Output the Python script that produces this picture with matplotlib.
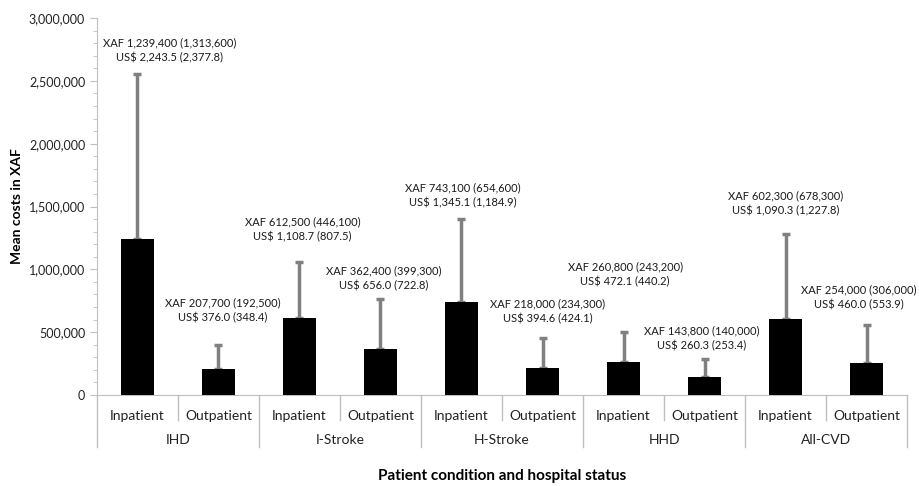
import matplotlib.pyplot as plt
from matplotlib.ticker import FuncFormatter, MultipleLocator
import matplotlib.transforms as mtransforms

# Data
conditions = ["IHD", "I-Stroke", "H-Stroke", "HHD", "All-CVD"]
statuses = ["Inpatient", "Outpatient"]
mean_xaf = [1239400, 207700, 612500, 362400, 743100, 218000, 260800, 143800, 602300, 254000]
sd_xaf = [1313600, 192500, 446100, 399300, 654600, 234300, 243200, 140000, 678300, 306000]
mean_usd = [2243.5, 376.0, 1108.7, 656.0, 1345.1, 394.6, 472.1, 260.3, 1090.3, 460.0]
sd_usd = [2377.8, 348.4, 807.5, 722.8, 1184.9, 424.1, 440.2, 253.4, 1227.8, 553.9]

# label placement (x offset in bar slots, y centre in data units)
label_dx = [0.40, 0.05, 0.04, 0.04, 0.02, 0.06, 0.02, -0.03, 0.0, -0.1]
label_y = [2745000, 676000, 1320000, 930000, 1590000, 663000, 963000, 450000, 1527000, 776000]

plt.rcParams['font.family'] = ['Lato', 'DejaVu Sans']

def main():
    fig = plt.figure(figsize=(9.2, 4.86), dpi=100)
    ax = fig.add_axes([0.1054, 0.1872, 0.8805, 0.7758])

    x = list(range(len(mean_xaf)))
    ax.bar(x, mean_xaf, width=0.4, color="black", zorder=3)
    ax.errorbar(x, mean_xaf, yerr=[[0] * len(sd_xaf), sd_xaf], fmt="none",
                ecolor="#808080", elinewidth=2.5, capsize=3, capthick=2.5, zorder=2)

    for i in x:
        txt = "XAF {:,} ({:,})\nUS$ {:,.1f} ({:,.1f})".format(
            mean_xaf[i], sd_xaf[i], mean_usd[i], sd_usd[i])
        ax.text(i + label_dx[i], label_y[i], txt, ha="center", va="center",
                fontsize=8, color="#1a1a1a", linespacing=1.4)

    ax.set_xlim(-0.5, len(x) - 0.5)
    ax.set_ylim(0, 3000000)
    ax.yaxis.set_major_locator(MultipleLocator(500000))
    ax.yaxis.set_minor_locator(MultipleLocator(100000))
    ax.yaxis.set_major_formatter(FuncFormatter(lambda v, p: "{:,.0f}".format(v)))
    ax.tick_params(axis="y", which="major", length=5, color="#bfbfbf", labelsize=9,
                   labelcolor="#222222")
    ax.tick_params(axis="y", which="minor", length=3, color="#bfbfbf")

    ax.set_xticks(x)
    ax.set_xticklabels(statuses * len(conditions), fontsize=10, color="#222222")
    ax.tick_params(axis="x", length=0, pad=11)

    for s in ["top", "right"]:
        ax.spines[s].set_visible(False)
    for s in ["left", "bottom"]:
        ax.spines[s].set_color("#bfbfbf")

    trans = mtransforms.blended_transform_factory(ax.transData, ax.transAxes)
    for k in range(len(x) + 1):
        pos = k - 0.5
        depth = -0.138 if k % 2 == 0 else -0.066
        ax.plot([pos, pos], [0, depth], color="#bfbfbf", lw=1, transform=trans,
                clip_on=False)
    for g, name in enumerate(conditions):
        ax.text(2 * g + 0.5, -0.119, name, transform=trans, ha="center", va="center",
                fontsize=10, color="#222222")

    ax.set_ylabel("Mean costs in XAF", fontsize=10, fontweight="bold", labelpad=4)
    fig.text(0.546, 0.0206, "Patient condition and hospital status", ha="center",
             va="center", fontsize=11, fontweight="bold")

    fig.savefig("out.png", dpi=100)


if __name__ == "__main__":
    main()
